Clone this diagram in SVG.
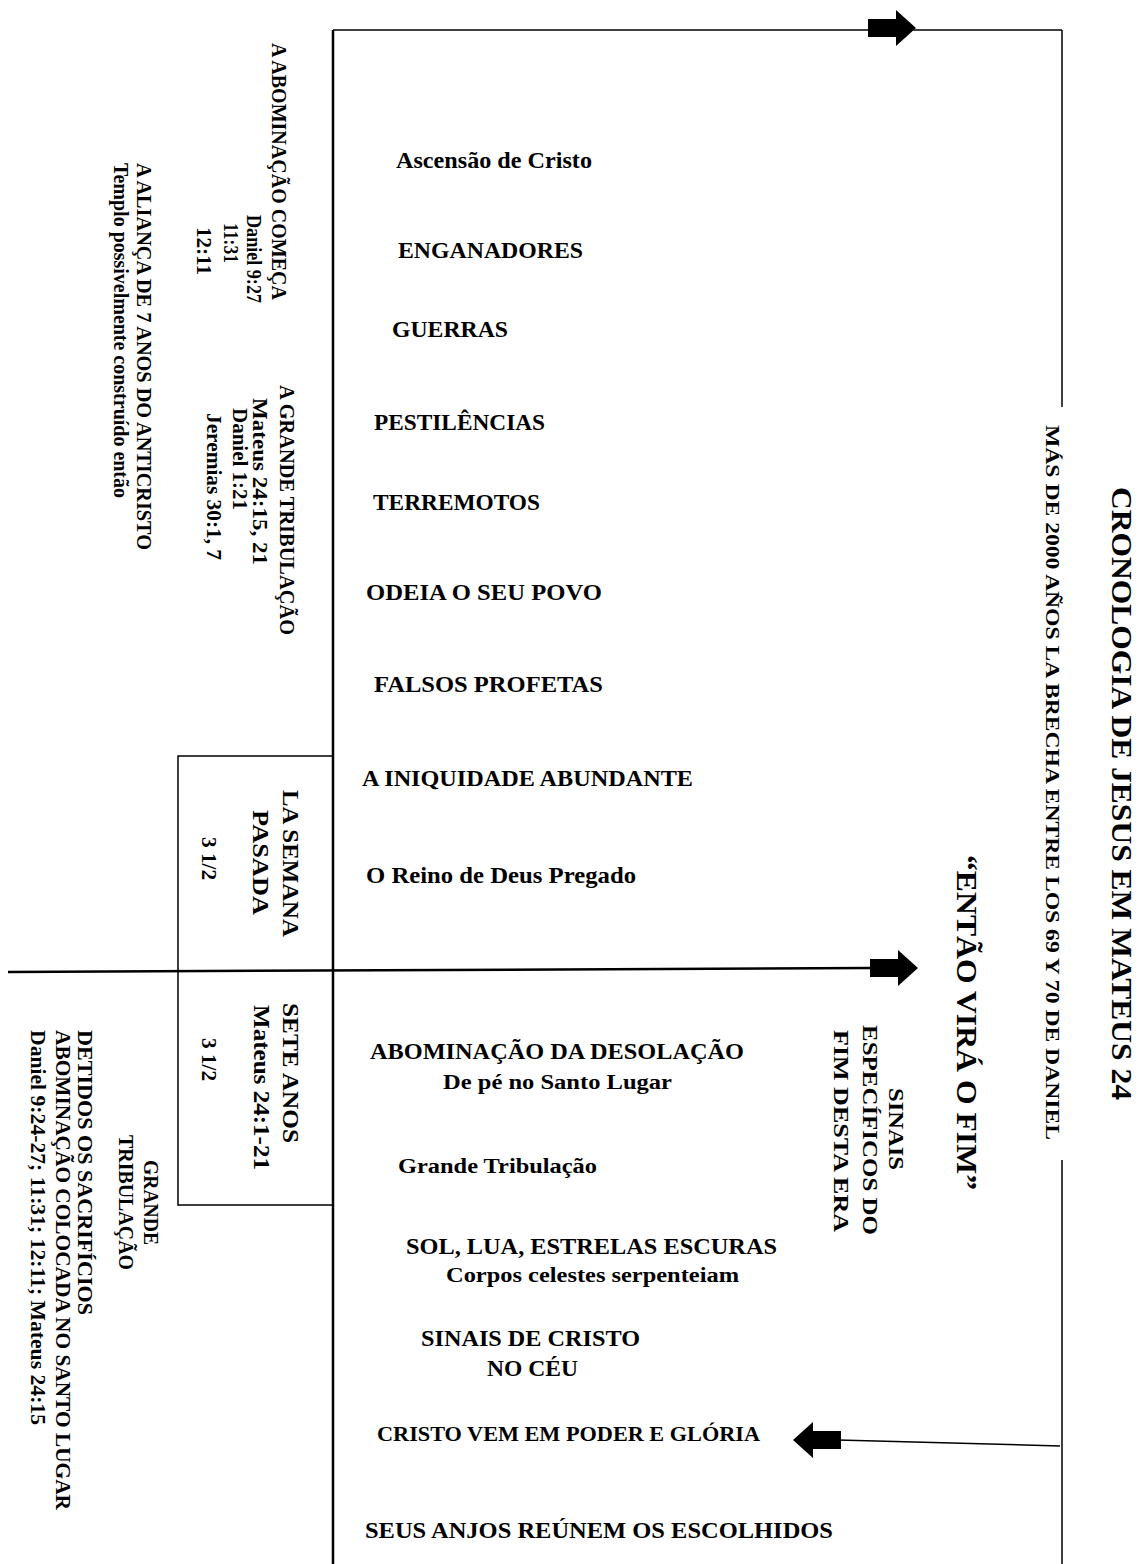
<svg xmlns="http://www.w3.org/2000/svg" width="1142" height="1564" viewBox="0 0 1142 1564">
<style>
text{font-family:"Liberation Serif","Times New Roman",serif;font-weight:bold;fill:#000}
.m{font-size:23px}
.s{font-size:20px}
.l{font-size:20px}
.b{font-size:23px}
.t{font-size:29px}
.st{font-size:18px}
.ln{stroke:#000;fill:none}
</style>
<defs>
<path id="arr" d="M-48,-9 L-20,-9 L-20,-18 L0,0 L-20,18 L-20,9 L-48,9 Z" fill="#000"/>
</defs>
<rect width="1142" height="1564" fill="#fff"/>

<g id="connectors">
<line class="ln" x1="333" y1="30" x2="333" y2="1564" stroke-width="2.5"/>
<line class="ln" x1="333" y1="30" x2="1062" y2="30" stroke-width="1.5"/>
<line class="ln" x1="1062" y1="30" x2="1062" y2="407" stroke-width="1.5"/>
<line class="ln" x1="1062" y1="1160" x2="1062" y2="1564" stroke-width="1.5"/>
<line class="ln" x1="8" y1="972" x2="870" y2="968" stroke-width="2.5"/>
<line class="ln" x1="1060" y1="1446" x2="838" y2="1440" stroke-width="1.5"/>
<use href="#arr" transform="translate(916,28)"/>
<use href="#arr" transform="translate(918,968)"/>
<use href="#arr" transform="translate(793,1440) rotate(180)"/>
</g>

<g id="box">
<rect x="178" y="756" width="155" height="449" fill="none" stroke="#000" stroke-width="1.5"/>
</g>

<g id="title">
<text class="t" transform="translate(1112,487) rotate(90)" textLength="613" lengthAdjust="spacingAndGlyphs">CRONOLOGIA DE JESUS EM MATEUS 24</text>
<text class="st" transform="translate(1046,425) rotate(90)" textLength="715" lengthAdjust="spacingAndGlyphs">MÁS DE 2000 AÑOS LA BRECHA ENTRE LOS 69 Y 70 DE DANIEL</text>
</g>
<g id="entao">
<text class="t" transform="translate(957,855) rotate(90)" textLength="335" lengthAdjust="spacingAndGlyphs">“ENTÃO VIRÁ O FIM”</text>
</g>
<g id="sinais-especificos">
<text class="s" transform="translate(889,1088) rotate(90)" textLength="82" lengthAdjust="spacingAndGlyphs">SINAIS</text>
<text class="s" transform="translate(863,1025) rotate(90)" textLength="210" lengthAdjust="spacingAndGlyphs">ESPECÍFICOS DO</text>
<text class="s" transform="translate(834,1030) rotate(90)" textLength="202" lengthAdjust="spacingAndGlyphs">FIM DESTA ERA</text>
</g>

<g id="abominacao-comeca">
<text class="l" transform="translate(272,43) rotate(90)" textLength="257" lengthAdjust="spacingAndGlyphs">A ABOMINAÇÃO COMEÇA</text>
<text class="l" transform="translate(247,215) rotate(90)" textLength="88" lengthAdjust="spacingAndGlyphs">Daniel 9:27</text>
<text class="l" transform="translate(224,223) rotate(90)" textLength="40" lengthAdjust="spacingAndGlyphs">11:31</text>
<text class="l" transform="translate(197,227) rotate(90)" textLength="48" lengthAdjust="spacingAndGlyphs">12:11</text>
</g>
<g id="alianca">
<text class="l" transform="translate(137,163) rotate(90)" textLength="387" lengthAdjust="spacingAndGlyphs">A ALIANÇA DE 7 ANOS DO ANTICRISTO</text>
<text class="l" font-size="18" transform="translate(114,163) rotate(90)" textLength="335" lengthAdjust="spacingAndGlyphs">Templo possivelmente construído então</text>
</g>
<g id="grande-tribulacao-top">
<text class="l" transform="translate(280,385) rotate(90)" textLength="250" lengthAdjust="spacingAndGlyphs">A GRANDE TRIBULAÇÃO</text>
<text class="l" transform="translate(253,398) rotate(90)" textLength="167" lengthAdjust="spacingAndGlyphs">Mateus 24:15, 21</text>
<text class="l" transform="translate(233,408) rotate(90)" textLength="102" lengthAdjust="spacingAndGlyphs">Daniel 1:21</text>
<text class="l" transform="translate(207,413) rotate(90)" textLength="147" lengthAdjust="spacingAndGlyphs">Jeremias 30:1, 7</text>
</g>

<g id="semana-pasada">
<text class="b" transform="translate(283,790) rotate(90)" textLength="147" lengthAdjust="spacingAndGlyphs">LA SEMANA</text>
<text class="b" transform="translate(253,810) rotate(90)" textLength="105" lengthAdjust="spacingAndGlyphs">PASADA</text>
<text class="l" transform="translate(202,837) rotate(90)" textLength="43" lengthAdjust="spacingAndGlyphs">3 1/2</text>
</g>
<g id="sete-anos">
<text class="b" transform="translate(283,1003) rotate(90)" textLength="140" lengthAdjust="spacingAndGlyphs">SETE ANOS</text>
<text class="b" transform="translate(254,1005) rotate(90)" textLength="165" lengthAdjust="spacingAndGlyphs">Mateus 24:1-21</text>
<text class="l" transform="translate(202,1038) rotate(90)" textLength="43" lengthAdjust="spacingAndGlyphs">3 1/2</text>
</g>

<g id="grande-tribulacao-bottom">
<text class="l" transform="translate(144,1160) rotate(90)" textLength="85" lengthAdjust="spacingAndGlyphs">GRANDE</text>
<text class="l" transform="translate(119,1135) rotate(90)" textLength="135" lengthAdjust="spacingAndGlyphs">TRIBULAÇÃO</text>
</g>
<g id="detidos">
<text class="l" transform="translate(78,1030) rotate(90)" textLength="285" lengthAdjust="spacingAndGlyphs">DETIDOS OS SACRIFÍCIOS</text>
<text class="l" transform="translate(56,1030) rotate(90)" textLength="480" lengthAdjust="spacingAndGlyphs">ABOMINAÇÃO COLOCADA NO SANTO LUGAR</text>
<text class="l" transform="translate(31,1030) rotate(90)" textLength="395" lengthAdjust="spacingAndGlyphs">Daniel 9:24-27; 11:31; 12:11; Mateus 24:15</text>
</g>

<g id="ascensao"><text class="m" x="396" y="168" textLength="196" lengthAdjust="spacingAndGlyphs">Ascensão  de Cristo</text></g>
<g id="enganadores"><text class="m" x="398" y="258" textLength="185" lengthAdjust="spacingAndGlyphs">ENGANADORES</text></g>
<g id="guerras"><text class="m" x="392" y="337" textLength="116" lengthAdjust="spacingAndGlyphs">GUERRAS</text></g>
<g id="pestilencias"><text class="m" x="374" y="430" textLength="171" lengthAdjust="spacingAndGlyphs">PESTILÊNCIAS</text></g>
<g id="terremotos"><text class="m" x="373" y="510" textLength="167" lengthAdjust="spacingAndGlyphs">TERREMOTOS</text></g>
<g id="odeia"><text class="m" x="366" y="600" textLength="236" lengthAdjust="spacingAndGlyphs">ODEIA O SEU POVO</text></g>
<g id="falsos-profetas"><text class="m" x="374" y="692" textLength="229" lengthAdjust="spacingAndGlyphs">FALSOS PROFETAS</text></g>
<g id="iniquidade"><text class="m" x="362" y="786" textLength="331" lengthAdjust="spacingAndGlyphs">A INIQUIDADE  ABUNDANTE</text></g>
<g id="reino"><text class="m" x="366" y="883" textLength="270" lengthAdjust="spacingAndGlyphs">O Reino de Deus Pregado</text></g>
<g id="abominacao-desolacao">
<text class="m" x="370" y="1059" textLength="374" lengthAdjust="spacingAndGlyphs">ABOMINAÇÃO  DA DESOLAÇÃO</text>
<text class="s" x="443" y="1089" textLength="229" lengthAdjust="spacingAndGlyphs">De pé no Santo Lugar</text>
</g>
<g id="grande-tribulacao"><text class="s" x="398" y="1173" textLength="199" lengthAdjust="spacingAndGlyphs">Grande Tribulação</text></g>
<g id="sol-lua">
<text class="m" x="406" y="1254" textLength="371" lengthAdjust="spacingAndGlyphs">SOL, LUA, ESTRELAS  ESCURAS</text>
<text class="s" x="446" y="1282" textLength="293" lengthAdjust="spacingAndGlyphs">Corpos celestes  serpenteiam</text>
</g>
<g id="sinais-cristo">
<text class="m" x="421" y="1346" textLength="219" lengthAdjust="spacingAndGlyphs">SINAIS  DE CRISTO</text>
<text class="m" x="487" y="1376" textLength="91" lengthAdjust="spacingAndGlyphs">NO CÉU</text>
</g>
<g id="cristo-vem"><text class="s" x="377" y="1441" textLength="383" lengthAdjust="spacingAndGlyphs">CRISTO  VEM EM PODER E GLÓRIA</text></g>
<g id="anjos"><text class="m" x="365" y="1538" textLength="468" lengthAdjust="spacingAndGlyphs">SEUS  ANJOS REÚNEM  OS ESCOLHIDOS</text></g>
</svg>
